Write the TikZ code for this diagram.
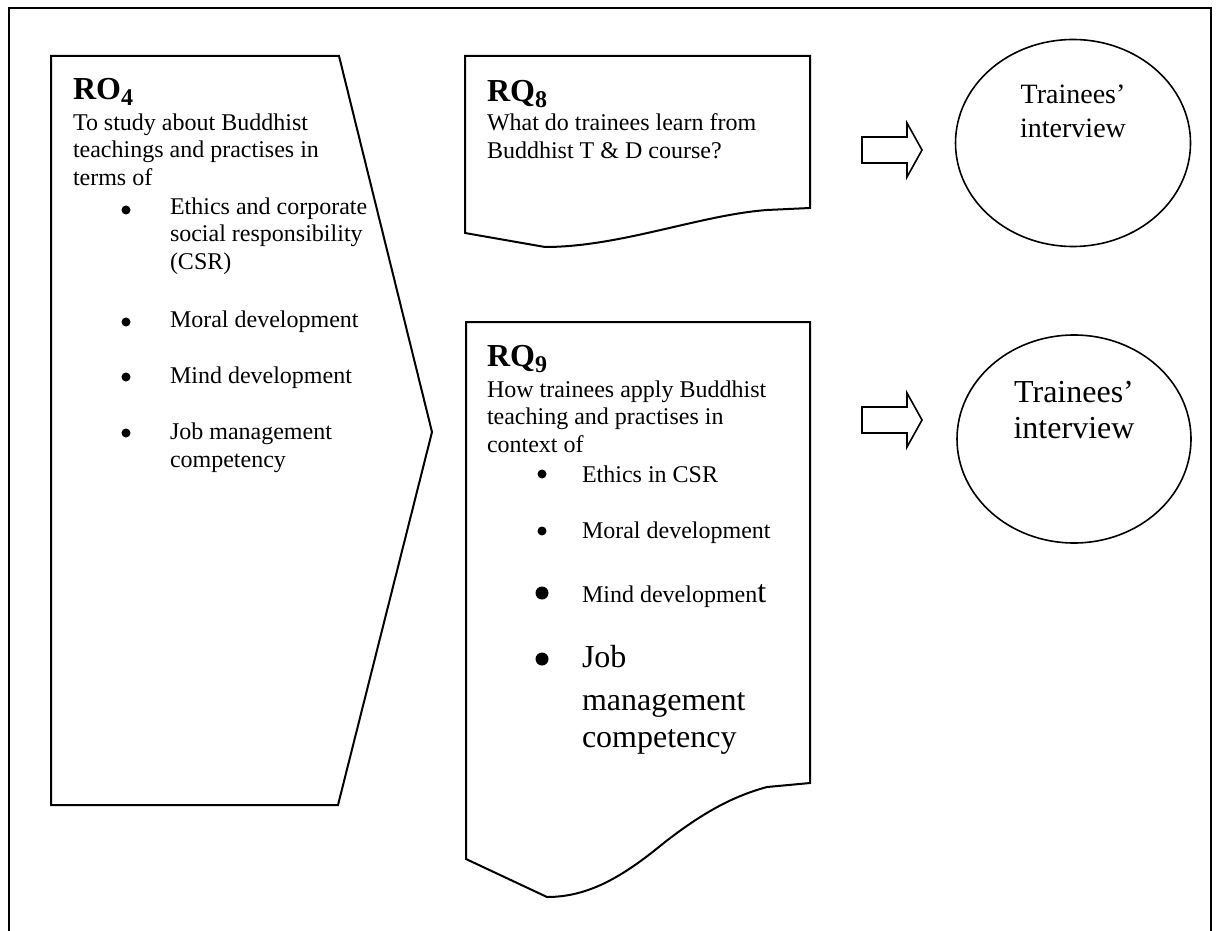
\documentclass[tikz,border=0pt]{standalone}
\usepackage{fontspec}
\setmainfont{Liberation Serif}
\usetikzlibrary{shapes.geometric}
\begin{document}
\begin{tikzpicture}[x=0.5pt,y=-0.5pt,
  txt/.style={anchor=base west, inner sep=0pt, outer sep=0pt, font=\fontsize{12}{14}\selectfont},
  bigtxt/.style={anchor=base west, inner sep=0pt, outer sep=0pt, font=\fontsize{16}{18}\selectfont},
  head/.style={anchor=base west, inner sep=0pt, outer sep=0pt, font=\fontsize{16}{18}\selectfont\bfseries},
  dot/.style={circle, fill=black, inner sep=0pt, minimum size=4.5pt},
  bigdot/.style={circle, fill=black, inner sep=0pt, minimum size=6.5pt},
  outline/.style={draw=black, line width=1pt, line join=miter},
  oval/.style={ellipse, draw=black, line width=0.8pt, inner sep=0pt},
  etext/.style={anchor=base, inner sep=0pt, outer sep=0pt}
]
\useasboundingbox (0,0) rectangle (1218,930);
% outer frame (bottom edge lies outside the picture)
\draw[line width=1pt] (9,945) -- (9,8) -- (1211,8) -- (1211,945);

% RO4 pentagon
\draw[outline] (51,56) -- (339,56) -- (432,432) -- (338,805) -- (51,805) -- cycle;
\node[head] (ro) at (73,100) {RO\raisebox{-3pt}{\fontsize{12}{12}\selectfont 4}};
\node[txt] (ro1) at (73,131) {To study about Buddhist};
\node[txt] (ro2) at (73,158) {teachings and practises in};
\node[txt] (ro3) at (73,186) {terms of};
\node[dot] (rob1) at (126,210) {};
\node[txt] (roa1) at (170,215) {Ethics and corporate};
\node[txt] (roa2) at (170,242) {social responsibility};
\node[txt] (roa3) at (170,270) {(CSR)};
\node[dot] (rob2) at (126,322) {};
\node[txt] (rob) at (170,328) {Moral development};
\node[dot] (rob3) at (126,377) {};
\node[txt] (roc) at (170,383) {Mind development};
\node[dot] (rob4) at (126,433) {};
\node[txt] (rod1) at (170,439) {Job management};
\node[txt] (rod2) at (170,467) {competency};

% RQ8 document shape
\draw[outline] (465,56) -- (810,56) -- (810,208) -- (767,210)
  .. controls (700,215) and (620,247) .. (545,247) -- (465,233) -- cycle;
\node[head] (rq8) at (487,102) {RQ\raisebox{-3pt}{\fontsize{12}{12}\selectfont 8}};
\node[txt] (rq8a) at (487,131) {What do trainees learn from};
\node[txt] (rq8b) at (487,159) {Buddhist T \& D course?};

% RQ9 document shape
\draw[outline] (466,322) -- (810,322) -- (810,783) -- (767,787)
  .. controls (730,797) and (700,815) .. (665,842)
  .. controls (625,875) and (590,897) .. (547,897) -- (466,859) -- cycle;
\node[head] (rq9) at (487,366) {RQ\raisebox{-3pt}{\fontsize{12}{12}\selectfont 9}};
\node[txt] (rq9a) at (487,397) {How trainees apply Buddhist};
\node[txt] (rq9b) at (487,424) {teaching and practises in};
\node[txt] (rq9c) at (487,452) {context of};
\node[dot] (rqb1) at (542,474) {};
\node[txt] (rqi1) at (582,482) {Ethics in CSR};
\node[dot] (rqb2) at (542,531) {};
\node[txt] (rqi2) at (582,538) {Moral development};
\node[bigdot] (rqb3) at (542,593) {};
\node[txt] (rqi3) at (582,602) {Mind developmen{\fontsize{16}{18}\selectfont t}};
\node[bigdot] (rqb4) at (542,659) {};
\node[bigtxt] (rqi4a) at (582,667) {Job};
\node[bigtxt] (rqi4b) at (582,710) {management};
\node[bigtxt] (rqi4c) at (582,747) {competency};

% block arrows
\coordinate (a1) at (862,150);
\coordinate (a2) at (862,420);
\draw[outline, line width=0.8pt] (a1) ++(0,-13) -- ++(45,0) -- ++(0,-14) -- ++(15,27) -- ++(-15,27) -- ++(0,-14) -- ++(-45,0) -- cycle;
\draw[outline, line width=0.8pt] (a2) ++(0,-13) -- ++(45,0) -- ++(0,-14) -- ++(15,27) -- ++(-15,27) -- ++(0,-14) -- ++(-45,0) -- cycle;

% ellipses
\node[oval, minimum width=117.5pt, minimum height=103.5pt] (e1) at (1073,143) {};
\node[etext, font=\fontsize{14}{16}\selectfont] (e1a) at (1073,104) {Trainees’};
\node[etext, font=\fontsize{14}{16}\selectfont] (e1b) at (1073,138) {interview};
\node[oval, minimum width=117pt, minimum height=104pt] (e2) at (1074,439) {};
\node[etext, font=\fontsize{16}{18}\selectfont] (e2a) at (1074,402) {Trainees’};
\node[etext, font=\fontsize{16}{18}\selectfont] (e2b) at (1074,438) {interview};
\end{tikzpicture}
\end{document}
